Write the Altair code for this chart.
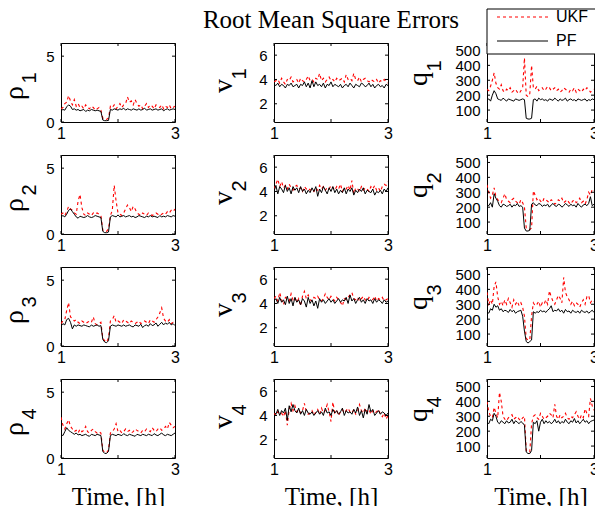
import altair as alt
import pandas as pd

# ---------------- data ----------------
x_ticks = [1, 2, 3]
rho_ticks = [0, 5]
v_ticks = [2, 4, 6]
q_ticks = [100, 200, 300, 400, 500]
rho_domain = [0, 6]
v_domain = [0.5, 7]
q_domain = [20, 550]
time_domain = [1, 3]

rho1_pf = [0.85,0.95,0.9,1.15,1.3,1.2,0.95,1.0,0.9,0.95,0.85,0.9,0.95,0.8,0.9,0.85,0.95,0.9,0.85,0.9,0.85,0.8,0.15,0.1,0.1,0.12,0.95,0.9,1.0,0.95,0.9,1.0,0.95,1.05,0.9,1.0,0.95,0.9,1.0,0.95,0.9,1.0,0.9,0.95,1.05,0.9,0.95,1.0,0.9,0.95,1.0,0.9,0.95,1.0,0.85,0.95,1.0,0.9,0.95,1.0,0.95]
rho1_ukf = [1.0,1.1,1.4,1.5,2.0,1.6,1.3,1.7,1.2,1.4,1.1,1.2,1.0,1.3,1.1,1.0,1.2,1.1,0.9,1.0,1.1,0.9,0.3,0.2,0.2,0.3,1.2,1.1,1.3,1.0,1.2,1.4,1.1,1.3,1.4,1.9,1.5,1.6,1.3,1.7,1.4,1.2,1.3,1.0,1.2,1.4,1.1,1.3,1.2,1.0,1.3,1.2,1.1,1.3,1.0,1.2,1.1,1.3,1.0,1.1,1.2]
rho2_pf = [1.3,1.4,1.3,1.5,1.8,1.9,1.7,1.5,1.3,1.2,1.35,1.3,1.25,1.3,1.4,1.3,1.25,1.3,1.4,1.35,1.3,1.25,0.2,0.1,0.1,0.15,1.3,1.4,1.35,1.3,1.45,1.3,1.35,1.4,1.3,1.35,1.4,1.3,1.35,1.25,1.3,1.4,1.35,1.3,1.25,1.35,1.3,1.4,1.3,1.35,1.3,1.25,1.4,1.3,1.35,1.3,1.4,1.35,1.3,1.4,1.35]
rho2_ukf = [1.5,1.6,1.4,1.7,2.1,1.9,1.8,1.6,1.5,2.5,3.0,2.0,1.5,1.4,1.6,1.5,1.4,1.6,1.5,1.6,1.5,1.4,0.3,0.2,0.2,0.4,1.4,1.8,3.7,2.5,1.6,1.5,1.4,1.6,1.9,2.2,2.0,1.7,2.1,1.9,1.6,1.5,1.4,1.6,1.5,1.4,1.6,1.5,1.4,1.5,1.6,1.5,1.4,1.5,1.6,1.5,1.7,1.6,1.8,1.7,1.9]
rho3_pf = [1.5,1.7,1.6,2.0,2.1,1.8,1.3,1.6,1.5,1.6,1.55,1.5,1.6,1.55,1.5,1.45,1.6,1.5,1.55,1.6,1.5,1.55,0.5,0.3,0.25,0.4,1.5,1.6,1.55,1.5,1.6,1.55,1.5,1.6,1.5,1.55,1.6,1.5,1.45,1.6,1.55,1.5,1.65,1.4,1.55,1.6,1.5,1.7,1.55,1.6,1.75,1.5,1.65,1.8,1.6,1.75,1.65,1.8,1.6,1.7,1.55]
rho3_ukf = [1.7,1.9,2.0,2.7,3.3,2.2,2.1,1.9,2.0,1.8,1.7,1.9,1.8,1.7,1.8,1.9,1.8,2.2,1.7,1.6,1.7,1.8,0.6,0.4,0.3,0.6,1.9,2.0,2.3,1.8,1.9,1.8,1.7,2.0,1.9,1.8,1.7,1.9,1.8,1.7,1.8,1.9,1.7,1.8,1.9,1.8,1.7,2.0,1.9,1.8,2.0,2.2,2.5,2.9,2.1,1.9,1.8,2.0,1.7,1.8,1.7]
rho4_pf = [1.8,1.7,2.0,2.3,2.1,2.0,1.9,1.8,1.9,1.75,1.8,1.7,1.75,1.8,1.7,1.65,1.8,1.75,1.7,1.8,1.75,1.7,0.5,0.35,0.35,0.5,1.7,1.8,1.75,1.7,1.8,1.75,1.7,1.85,1.75,1.7,1.8,1.75,1.7,1.65,1.8,1.75,1.7,1.8,1.75,1.7,1.8,1.75,1.7,1.85,1.75,1.7,1.8,1.9,1.75,1.7,1.8,1.75,1.7,1.8,1.9]
rho4_ukf = [3.1,2.5,2.2,2.6,2.9,2.4,2.2,2.0,2.1,1.9,2.2,2.0,2.1,2.4,2.0,1.9,2.1,2.2,2.0,1.9,2.0,1.9,0.6,0.4,0.4,0.6,1.9,2.0,2.2,2.6,2.0,2.1,1.9,2.0,2.2,2.0,2.1,1.9,2.0,2.2,2.1,2.0,1.9,2.1,2.0,2.2,2.1,2.0,2.3,2.1,2.0,2.2,2.3,2.1,2.2,2.4,2.2,2.7,2.5,2.3,2.4]

v1_pf = [3.6,3.5,3.7,3.4,3.6,3.5,3.3,3.6,3.5,3.7,3.4,3.5,3.6,3.3,3.6,3.5,3.8,3.4,3.7,3.3,3.9,3.4,3.8,3.5,3.6,3.4,3.7,3.3,3.6,3.5,3.8,3.4,3.6,3.5,3.4,3.6,3.3,3.5,3.6,3.4,3.7,3.5,3.3,3.6,3.5,3.4,3.7,3.6,3.4,3.5,3.7,3.4,3.6,3.3,3.5,3.6,3.4,3.5,3.3,3.6,3.5]
v1_ukf = [3.8,3.9,4.0,3.7,4.1,3.8,3.6,4.0,3.9,4.2,3.8,3.9,4.0,3.7,4.1,3.9,3.8,4.0,4.3,3.9,4.0,3.8,4.1,4.0,4.5,3.9,4.1,3.8,4.0,4.2,3.9,4.0,3.8,4.1,3.9,4.0,4.1,3.8,4.4,4.0,4.1,3.9,4.5,4.0,3.9,4.2,3.8,4.0,4.1,3.9,3.8,4.0,3.9,3.8,4.0,3.7,3.9,3.8,4.0,3.8,3.7]
v2_pf = [4.0,4.5,3.8,4.4,4.2,3.9,4.5,4.0,4.3,3.8,4.4,4.1,4.3,3.9,4.4,4.0,4.2,3.8,4.1,3.9,4.3,4.0,4.4,3.6,4.2,3.9,4.4,4.1,3.8,4.3,4.0,4.4,3.9,4.2,3.8,4.1,3.9,4.3,3.8,4.2,4.0,4.3,3.7,4.1,3.9,4.2,4.0,4.3,3.8,4.1,4.0,3.9,4.2,3.7,4.0,3.9,4.1,3.8,4.2,4.0,4.3]
v2_ukf = [4.2,4.6,5.0,4.4,4.8,4.3,4.5,4.2,4.6,4.3,4.1,4.4,4.5,4.2,4.3,4.0,4.4,4.2,4.3,4.1,4.2,4.0,4.3,4.1,4.5,4.2,4.4,4.1,4.3,4.2,4.5,4.3,4.1,4.4,4.2,4.6,4.0,4.3,4.2,4.5,4.1,4.9,3.8,4.3,4.2,4.0,4.4,4.1,4.3,4.2,4.0,4.4,4.2,4.5,4.1,4.3,4.0,4.4,4.6,4.5,4.8]
v3_pf = [4.2,4.4,4.0,4.5,4.1,4.3,3.9,4.6,4.0,4.4,3.8,4.5,4.1,4.3,3.9,4.4,4.2,3.7,4.5,4.0,4.3,3.8,4.2,3.6,4.4,4.1,4.3,4.0,4.2,4.4,4.1,4.3,4.0,4.2,4.4,4.1,4.3,4.2,4.5,4.0,4.7,4.2,4.4,4.0,4.3,4.5,4.1,4.3,4.0,4.4,4.2,4.3,4.0,4.4,4.1,4.3,4.2,4.0,4.3,4.1,4.2]
v3_ukf = [4.4,4.6,4.2,4.9,4.3,3.9,4.5,4.4,4.2,4.8,4.3,4.5,4.1,4.4,3.8,4.6,5.0,4.4,4.7,4.3,4.2,4.5,4.4,4.6,4.3,4.2,4.4,4.8,4.5,4.3,4.6,4.4,4.2,4.5,4.3,4.1,3.8,4.4,4.3,4.5,4.7,4.9,4.4,4.3,4.5,4.2,4.4,4.6,4.3,4.2,4.5,4.4,4.3,4.6,4.2,4.4,4.3,4.5,4.2,4.3,4.4]
v4_pf = [4.3,4.1,4.5,4.0,4.4,4.2,4.6,3.6,4.8,4.3,4.9,4.4,4.2,4.6,4.1,4.4,4.0,4.5,4.2,4.1,4.3,4.0,4.2,4.4,4.1,4.3,4.0,4.6,4.2,4.3,4.0,4.5,4.2,4.4,4.1,4.3,4.6,4.0,4.4,4.2,4.3,4.1,4.5,4.2,4.7,4.0,4.4,3.8,4.5,4.1,4.9,4.3,4.5,4.0,4.2,4.4,4.1,4.3,4.2,4.0,4.2]
v4_ukf = [4.2,4.0,4.3,4.1,4.2,3.9,4.4,3.2,4.5,5.0,4.4,4.8,4.3,4.5,4.2,4.4,5.0,4.3,4.1,4.2,4.4,4.0,4.3,4.5,4.1,4.6,4.2,4.4,4.9,4.3,3.5,5.1,4.2,4.4,4.0,4.3,4.5,4.2,4.4,4.6,4.3,4.2,4.5,4.1,4.3,4.9,4.4,4.2,4.6,4.3,4.5,4.1,4.4,4.2,4.3,4.5,4.1,3.9,4.2,3.7,4.0]

q1_pf = [165,175,160,200,230,210,175,170,165,180,170,160,175,170,165,160,175,170,165,170,175,170,45,40,40,45,170,175,160,180,170,175,165,170,160,175,170,165,180,170,160,175,165,170,180,160,170,175,165,170,160,175,170,165,170,175,160,170,165,175,170]
q1_ukf = [240,230,260,300,350,280,250,240,270,230,220,240,230,250,220,230,240,220,210,230,250,450,200,190,210,400,250,240,260,230,240,250,230,240,260,250,230,240,250,230,240,220,230,250,240,230,220,240,230,250,220,240,230,220,240,230,250,240,220,230,240]
q2_pf = [220,210,230,200,290,260,240,210,200,220,215,205,210,220,200,215,210,225,205,210,200,60,40,40,45,220,230,215,210,225,220,205,215,210,220,200,215,225,210,205,220,215,200,210,225,215,205,220,210,215,200,225,210,200,215,220,210,225,270,210,220]
q2_ukf = [350,300,260,280,330,270,250,240,230,260,290,250,240,230,250,260,240,230,220,250,230,200,60,50,50,60,310,280,250,260,240,230,260,250,240,230,250,240,220,230,250,240,260,230,240,250,230,220,240,250,230,240,260,230,240,220,250,300,280,320,310]
q3_pf = [250,240,270,260,300,280,290,260,270,250,260,255,245,265,250,260,240,250,255,260,220,120,50,40,50,60,250,240,250,245,260,250,255,245,260,270,290,250,260,255,270,250,260,240,265,250,255,240,260,250,245,255,240,260,250,245,255,240,250,260,245]
q3_ukf = [380,300,330,300,420,450,350,300,320,290,330,300,340,310,280,330,300,320,290,310,280,220,70,60,60,220,310,290,300,320,280,310,300,330,300,390,350,320,300,330,360,340,310,480,380,350,330,300,320,290,310,300,280,310,330,300,350,360,310,330,320]
q4_pf = [260,250,280,270,320,300,260,250,270,260,250,270,255,260,280,250,270,260,250,265,255,240,60,50,50,70,260,250,270,200,260,280,250,270,255,265,250,260,280,255,270,250,265,255,280,260,250,270,260,285,255,270,250,265,280,260,270,250,265,270,275]
q4_ukf = [400,330,300,290,360,320,290,460,400,300,280,270,290,300,310,280,290,300,280,270,290,300,70,60,60,250,300,310,290,280,320,300,280,290,300,320,310,290,380,300,280,310,290,300,320,290,280,300,290,310,330,300,280,310,290,350,320,300,420,370,340]

series_names = ["UKF", "PF"]
legend_labels = ["UKF", "PF"]
main_title = "Root Mean Square Errors"
x_title = "Time, [h]"
var_letters = ["\u03c1", "v", "q"]
var_indices = ["1", "2", "3", "4"]

# ---------------- styling ----------------
W, H = 114, 79
W_LAST = 107
SERIF = "Liberation Serif"
SANS = "Liberation Sans"
RED = "#ff0000"
DASH = [3, 3]
# y-title placement per column: (main baseline x, main centre y, sub baseline x, sub centre y)
YT_POS = [(-38, 50, -25, 35), (-42, 43, -28, 31), (-60, 36, -46, 23)]
YT_MAIN, YT_SUB = 28, 20


def series_frame(pf, ukf):
    rows = []
    for name, vals in ((series_names[0], ukf), (series_names[1], pf)):
        n = len(vals)
        for i, v in enumerate(vals):
            rows.append({"t": time_domain[0] + (time_domain[1] - time_domain[0]) * i / (n - 1),
                         "v": v, "s": name})
    return pd.DataFrame(rows)


def one_row(**kw):
    return pd.DataFrame({k: [v] for k, v in kw.items()})


def panel(pf, ukf, dom, ticks, col, idx, bottom_row, width, legend=False, title=False):
    df = series_frame(pf, ukf)
    xaxis_kw = dict(values=x_ticks, format="d")
    xaxis_kw["title"] = x_title if bottom_row else None
    xenc = alt.X("t:Q", scale=alt.Scale(domain=time_domain, nice=False, zero=False),
                 axis=alt.Axis(**xaxis_kw))
    yenc = alt.Y("v:Q", scale=alt.Scale(domain=dom, nice=False, zero=False),
                 axis=alt.Axis(values=ticks, title=None, format="d"))
    base = alt.Chart(df)
    ukf_line = base.transform_filter(alt.datum.s == series_names[0]).mark_line(
        color=RED, strokeDash=DASH, strokeWidth=1.1, clip=True).encode(x=xenc, y=yenc)
    pf_line = base.transform_filter(alt.datum.s == series_names[1]).mark_line(
        color="black", strokeWidth=1, clip=True).encode(x=xenc, y=yenc)
    xt = alt.Chart(pd.DataFrame({"t": x_ticks}))
    yt = alt.Chart(pd.DataFrame({"v": ticks}))
    tb = xt.mark_rule(color="black").encode(x=xenc, y=alt.value(H), y2=alt.value(H - 3))
    tt = xt.mark_rule(color="black").encode(x=xenc, y=alt.value(0), y2=alt.value(3))
    tl = yt.mark_rule(color="black").encode(y=yenc, x=alt.value(0), x2=alt.value(3))
    tr = yt.mark_rule(color="black").encode(y=yenc, x=alt.value(width), x2=alt.value(width - 3))
    bx, by, sx, sy = YT_POS[col]
    ymain = alt.Chart(one_row(label=var_letters[col])).mark_text(
        angle=270, align="center", baseline="alphabetic", font=SERIF, fontSize=YT_MAIN,
        color="black").encode(x=alt.value(bx), y=alt.value(by), text="label:N")
    ysub = alt.Chart(one_row(label=var_indices[idx])).mark_text(
        angle=270, align="center", baseline="alphabetic", font=SANS, fontSize=YT_SUB,
        color="black").encode(x=alt.value(sx), y=alt.value(sy), text="label:N")
    layers = [ukf_line, pf_line, tb, tt, tl, tr, ymain, ysub]
    if col == 0:
        # invisible anchor fixing the left extent of the chart
        layers.append(alt.Chart(one_row(a=0)).mark_rule(strokeOpacity=0).encode(
            x=alt.value(-70), x2=alt.value(-70), y=alt.value(0), y2=alt.value(H)))
    if title:
        layers.append(alt.Chart(one_row(label=main_title)).mark_text(
            align="center", baseline="alphabetic", font=SERIF, fontSize=25, color="black").encode(
            x=alt.value(width / 2), y=alt.value(-15), text="label:N"))
    if legend:
        box = alt.Chart(one_row(a=0)).mark_rect(fill="white", stroke="black", strokeWidth=1).encode(
            x=alt.value(0), x2=alt.value(200), y=alt.value(-34), y2=alt.value(11))
        s1 = alt.Chart(one_row(a=0)).mark_rule(color=RED, strokeDash=DASH, strokeWidth=1.1).encode(
            x=alt.value(10), x2=alt.value(61), y=alt.value(-26))
        s2 = alt.Chart(one_row(a=0)).mark_rule(color="black", strokeWidth=1).encode(
            x=alt.value(10), x2=alt.value(61), y=alt.value(-2))
        t1 = alt.Chart(one_row(label=legend_labels[0])).mark_text(
            align="left", baseline="middle", font=SANS, fontSize=16, color="black").encode(
            x=alt.value(69), y=alt.value(-26), text="label:N")
        t2 = alt.Chart(one_row(label=legend_labels[1])).mark_text(
            align="left", baseline="middle", font=SANS, fontSize=16, color="black").encode(
            x=alt.value(69), y=alt.value(-2), text="label:N")
        layers += [box, s1, s2, t1, t2]
    return alt.layer(*layers).properties(width=width, height=H)


rho = [(rho1_pf, rho1_ukf), (rho2_pf, rho2_ukf), (rho3_pf, rho3_ukf), (rho4_pf, rho4_ukf)]
vv = [(v1_pf, v1_ukf), (v2_pf, v2_ukf), (v3_pf, v3_ukf), (v4_pf, v4_ukf)]
qq = [(q1_pf, q1_ukf), (q2_pf, q2_ukf), (q3_pf, q3_ukf), (q4_pf, q4_ukf)]

panels = []
for r in range(4):
    bottom = r == 3
    panels.append(panel(rho[r][0], rho[r][1], rho_domain, rho_ticks, 0, r, bottom, W))
    panels.append(panel(vv[r][0], vv[r][1], v_domain, v_ticks, 1, r, bottom, W, title=(r == 0)))
    panels.append(panel(qq[r][0], qq[r][1], q_domain, q_ticks, 2, r, bottom, W_LAST, legend=(r == 0)))

chart = alt.concat(*panels, columns=3, spacing={"row": 33, "column": 99}, bounds="flush").properties(
    padding={"left": -18, "top": -1, "right": -93, "bottom": -4}, background="white"
).configure_axis(
    labelFont=SANS, labelFontSize=16, labelColor="black", ticks=False, tickSize=0, domain=False,
    grid=False, labelFlush=False, labelOverlap=False,
    titleFont=SERIF, titleFontSize=25, titleFontWeight="normal", titleColor="black"
).configure_axisX(labelPadding=3, titlePadding=7).configure_axisY(labelFontSize=15, labelPadding=7
).configure_view(stroke="black", strokeWidth=1)

chart.save("out.html", embed_options={"renderer": "svg", "actions": False})
